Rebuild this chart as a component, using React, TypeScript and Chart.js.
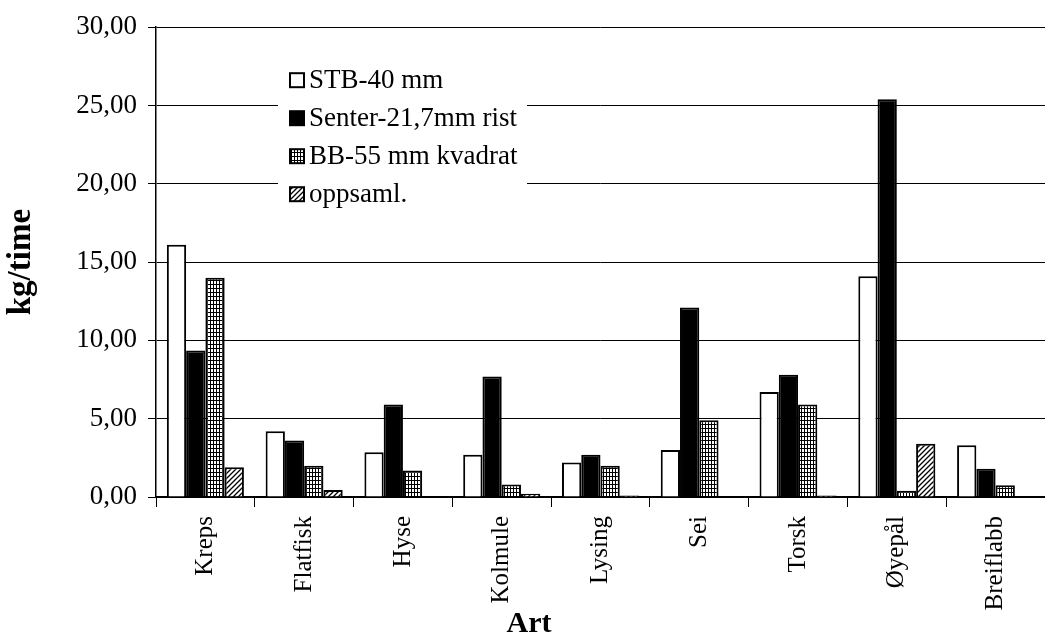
import { useEffect, useRef } from "react";
import { Chart, registerables } from "chart.js";

Chart.register(...registerables);

// Species (x categories)
const categories = ["Kreps", "Flatfisk", "Hyse", "Kolmule", "Lysing", "Sei", "Torsk", "Øyepål", "Breiflabb"];

// Series names
const seriesNames = ["STB-40 mm", "Senter-21,7mm rist", "BB-55 mm kvadrat", "oppsaml."];

// Catch rates, kg/time
const stb = [16.1, 4.2, 2.85, 2.7, 2.2, 3.0, 6.7, 14.1, 3.3];
const senter = [9.35, 3.6, 5.9, 7.7, 2.7, 12.1, 7.8, 25.4, 1.8];
const bb = [14.0, 2.0, 1.7, 0.8, 2.0, 4.9, 5.9, 0.4, 0.75];
const oppsaml = [1.9, 0.45, 0, 0.2, 0.1, 0, 0.1, 3.4, 0];

// Value axis
const yMin = 0;
const yMax = 30;
const yStep = 5;

// Axis titles
const xTitle = "Art";
const yTitle = "kg/time";

const FONT = "Liberation Serif";

function makeGridPattern(ctx: CanvasRenderingContext2D): CanvasPattern | string {
  const c = document.createElement("canvas");
  c.width = 3;
  c.height = 4;
  const g = c.getContext("2d")!;
  g.fillStyle = "#000";
  g.fillRect(0, 0, 3, 4);
  g.fillStyle = "#fff";
  g.fillRect(1, 1, 2, 3);
  return ctx.createPattern(c, "repeat") || "#888";
}

function makeHatchPattern(ctx: CanvasRenderingContext2D): CanvasPattern | string {
  const s = 5;
  const c = document.createElement("canvas");
  c.width = s;
  c.height = s;
  const g = c.getContext("2d")!;
  g.fillStyle = "#fff";
  g.fillRect(0, 0, s, s);
  g.strokeStyle = "#000";
  g.lineWidth = 1.3;
  g.beginPath();
  g.moveTo(0, s);
  g.lineTo(s, 0);
  g.moveTo(-1, 1);
  g.lineTo(1, -1);
  g.moveTo(s - 1, s + 1);
  g.lineTo(s + 1, s - 1);
  g.stroke();
  return ctx.createPattern(c, "repeat") || "#ccc";
}

// Legend boxed inside the plot area on a white ground over the grid lines,
// plus the category-axis title
const insideLegend = {
  id: "insideLegend",
  afterDraw(chart: any) {
    const ctx: CanvasRenderingContext2D = chart.ctx;
    const area = chart.chartArea;
    const boxX = area.left + 122;
    const boxY = area.top + 20;
    ctx.save();
    ctx.fillStyle = "#fff";
    ctx.fillRect(boxX, boxY, 249, 172);
    ctx.font = `27px "${FONT}"`;
    ctx.textBaseline = "middle";
    ctx.textAlign = "left";
    chart.data.datasets.forEach((ds: any, i: number) => {
      const cy = area.top + 53 + i * 38;
      const sx = boxX + 12;
      const size = 14;
      ctx.fillStyle = ds.backgroundColor;
      ctx.fillRect(sx, cy - size / 2, size, size);
      ctx.strokeStyle = "#000";
      ctx.lineWidth = 2;
      ctx.strokeRect(sx, cy - size / 2, size, size);
      ctx.fillStyle = "#000";
      ctx.fillText(ds.label, sx + 19, cy + 1);
    });

    ctx.font = `bold 30px "${FONT}"`;
    ctx.textAlign = "center";
    ctx.textBaseline = "alphabetic";
    ctx.fillText(xTitle, area.left + 373, 632);
    ctx.restore();
  },
};

export default function App() {
  const canvasRef = useRef<HTMLCanvasElement | null>(null);

  useEffect(() => {
    const canvas = canvasRef.current;
    if (!canvas) return;
    const ctx = canvas.getContext("2d")!;
    const gridFill = makeGridPattern(ctx);
    const hatchFill = makeHatchPattern(ctx);

    const barStyle = { borderColor: "#000", borderWidth: 2 };

    const chart = new Chart(canvas, {
      type: "bar",
      data: {
        labels: categories,
        datasets: [
          { label: seriesNames[0], data: stb, backgroundColor: "#fff", ...barStyle },
          { label: seriesNames[1], data: senter, backgroundColor: "#000", ...barStyle },
          { label: seriesNames[2], data: bb, backgroundColor: gridFill as any, ...barStyle },
          { label: seriesNames[3], data: oppsaml, backgroundColor: hatchFill as any, ...barStyle },
        ],
      },
      options: {
        responsive: false,
        animation: false,
        maintainAspectRatio: false,
        layout: { padding: { top: 25, left: 0, right: 0, bottom: 0 } },
        datasets: { bar: { categoryPercentage: 0.78, barPercentage: 1.0 } },
        plugins: {
          legend: { display: false },
          tooltip: { enabled: false },
        },
        scales: {
          x: {
            type: "category",
            offset: true,
            grid: {
              offset: true,
              drawOnChartArea: false,
              drawTicks: true,
              tickLength: 10,
              color: "#000",
              lineWidth: 1,
            },
            border: { display: true, color: "#000", width: 1.5 },
            ticks: {
              color: "#000",
              font: { family: FONT, size: 25 },
              minRotation: 90,
              maxRotation: 90,
              padding: 9,
              autoSkip: false,
            },
            title: { display: false },
            afterFit(scale: any) {
              scale.height = 139;
            },
          },
          y: {
            min: yMin,
            max: yMax,
            ticks: {
              stepSize: yStep,
              color: "#000",
              font: { family: FONT, size: 27 },
              padding: 11,
              callback: (v: any) => Number(v).toFixed(2).replace(".", ","),
            },
            grid: { color: "#000", lineWidth: 1, tickLength: 8 },
            border: { display: true, color: "#000", width: 1.5 },
            title: {
              display: true,
              text: yTitle,
              color: "#000",
              font: { family: FONT, size: 33, weight: "bold" },
              padding: { top: 2, bottom: 0 },
            },
            afterFit(scale: any) {
              scale.width = 156;
            },
          },
        },
      },
      plugins: [insideLegend],
    });

    return () => chart.destroy();
  }, []);

  return (
    <div style={{ position: "fixed", left: 0, top: 0, width: 1045, height: 636, background: "#fff" }}>
      <canvas ref={canvasRef} width={1045} height={636} style={{ display: "block" }} />
    </div>
  );
}
